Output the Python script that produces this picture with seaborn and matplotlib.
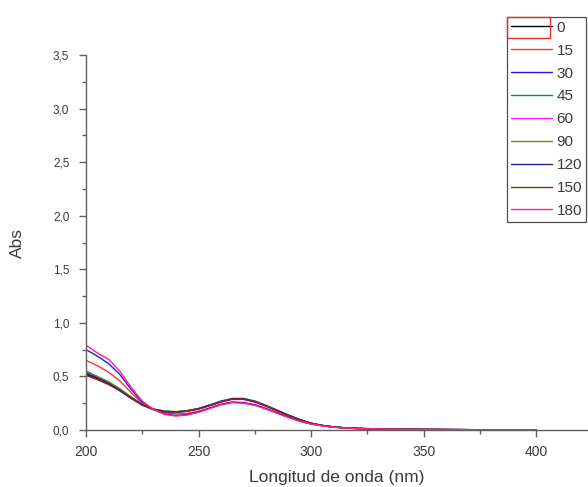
import matplotlib
matplotlib.use("Agg")
import matplotlib.pyplot as plt
from matplotlib.ticker import MultipleLocator, FuncFormatter
from matplotlib.patches import Rectangle
import numpy as np
import pandas as pd
import seaborn as sns

# Wavelength grid (nm)
wavelength = [200, 205, 210, 215, 220, 225, 230, 235, 240, 245, 250, 255, 260, 265,
              270, 275, 280, 285, 290, 295, 300, 305, 310, 315, 320, 330, 340, 360,
              380, 400]

# Absorbance spectra per time (min)
abs_0 = [0.52, 0.48, 0.43, 0.37, 0.30, 0.235, 0.195, 0.175, 0.17, 0.18, 0.20, 0.23, 0.265, 0.29,
         0.29, 0.265, 0.225, 0.18, 0.135, 0.095, 0.062, 0.042, 0.028, 0.02, 0.015, 0.01, 0.007,
         0.004, 0.002, 0.001]
abs_15 = [0.65, 0.60, 0.54, 0.46, 0.35, 0.25, 0.19, 0.16, 0.15, 0.155, 0.175, 0.205, 0.24, 0.26,
          0.255, 0.235, 0.20, 0.16, 0.12, 0.085, 0.057, 0.04, 0.027, 0.019, 0.014, 0.009, 0.006,
          0.004, 0.002, 0.001]
abs_30 = [0.75, 0.69, 0.62, 0.52, 0.38, 0.26, 0.19, 0.15, 0.135, 0.145, 0.17, 0.205, 0.24, 0.26,
          0.255, 0.235, 0.20, 0.16, 0.12, 0.085, 0.057, 0.04, 0.027, 0.019, 0.014, 0.009, 0.006,
          0.004, 0.002, 0.001]
abs_45 = [0.55, 0.50, 0.45, 0.385, 0.31, 0.24, 0.195, 0.175, 0.17, 0.18, 0.20, 0.235, 0.27, 0.295,
          0.295, 0.27, 0.23, 0.185, 0.14, 0.098, 0.064, 0.043, 0.029, 0.021, 0.015, 0.01, 0.007,
          0.004, 0.002, 0.001]
abs_60 = [0.53, 0.49, 0.44, 0.375, 0.30, 0.235, 0.19, 0.17, 0.165, 0.175, 0.195, 0.225, 0.26, 0.285,
          0.285, 0.26, 0.22, 0.178, 0.133, 0.094, 0.061, 0.042, 0.028, 0.02, 0.015, 0.01, 0.007,
          0.004, 0.002, 0.001]
abs_90 = [0.54, 0.495, 0.445, 0.38, 0.305, 0.24, 0.195, 0.175, 0.17, 0.18, 0.20, 0.232, 0.268, 0.292,
          0.292, 0.268, 0.228, 0.183, 0.138, 0.097, 0.063, 0.043, 0.029, 0.021, 0.015, 0.01, 0.007,
          0.004, 0.002, 0.001]
abs_120 = [0.53, 0.485, 0.435, 0.372, 0.30, 0.235, 0.192, 0.172, 0.167, 0.177, 0.198, 0.23, 0.266, 0.29,
           0.29, 0.266, 0.226, 0.181, 0.136, 0.096, 0.062, 0.042, 0.028, 0.02, 0.015, 0.01, 0.007,
           0.004, 0.002, 0.001]
abs_150 = [0.51, 0.47, 0.425, 0.365, 0.295, 0.232, 0.19, 0.17, 0.165, 0.175, 0.196, 0.228, 0.264, 0.288,
           0.288, 0.264, 0.224, 0.179, 0.134, 0.094, 0.061, 0.041, 0.028, 0.02, 0.015, 0.01, 0.007,
           0.004, 0.002, 0.001]
abs_180 = [0.79, 0.72, 0.66, 0.55, 0.40, 0.27, 0.19, 0.145, 0.13, 0.14, 0.165, 0.20, 0.235, 0.255,
           0.25, 0.23, 0.195, 0.155, 0.115, 0.08, 0.055, 0.038, 0.026, 0.018, 0.013, 0.009, 0.006,
           0.004, 0.002, 0.001]

times = ["0", "15", "30", "45", "60", "90", "120", "150", "180"]
series = [abs_0, abs_15, abs_30, abs_45, abs_60, abs_90, abs_120, abs_150, abs_180]
colors = ["#000000", "#ff3030", "#2020e0", "#008080", "#ff20ff", "#808000",
          "#202090", "#902020", "#ff2090"]

frames = [pd.DataFrame({"wl": wavelength, "abs": s, "t": t}) for t, s in zip(times, series)]
df = pd.concat(frames, ignore_index=True)

sns.set_style("ticks")
plt.rcParams["font.family"] = ["Liberation Sans", "DejaVu Sans"]

fig = plt.figure(figsize=(5.88, 4.87), dpi=100)
ax = fig.add_axes([86 / 588, 57 / 487, 502 / 588, 375 / 487])

sns.lineplot(data=df, x="wl", y="abs", hue="t", hue_order=times,
             palette=dict(zip(times, colors)), estimator=None, sort=False,
             linewidth=1.0, ax=ax, legend=False)

ax.set_xlim(200, 423)
ax.set_ylim(0, 3.5)
ax.xaxis.set_major_locator(MultipleLocator(50))
ax.xaxis.set_minor_locator(MultipleLocator(25))
ax.yaxis.set_major_locator(MultipleLocator(0.5))
ax.yaxis.set_minor_locator(MultipleLocator(0.25))
ax.yaxis.set_major_formatter(FuncFormatter(lambda v, p: f"{v:.1f}".replace(".", ",")))

axis_col = "#606060"
text_col = "#3a3a3a"
for side in ["top", "right"]:
    ax.spines[side].set_visible(False)
for side in ["left", "bottom"]:
    ax.spines[side].set_color(axis_col)
    ax.spines[side].set_linewidth(1.0)
ax.tick_params(which="major", direction="out", length=5, width=1, color=axis_col,
               labelcolor=text_col)
ax.tick_params(which="minor", direction="out", length=3, width=1, color=axis_col)
ax.tick_params(axis="x", which="major", labelsize=10, pad=6)
ax.tick_params(axis="y", which="major", labelsize=8.5, pad=7)

ax.set_xlabel("Longitud de onda (nm)", fontsize=12.5, color=text_col, labelpad=8)
ax.set_ylabel("Abs", fontsize=12.5, color=text_col, labelpad=20)

handles = [plt.Line2D([], [], color=c, linewidth=1.0) for c in colors]
leg = fig.legend(handles, times, loc="upper right",
                 bbox_to_anchor=(586 / 588, (487 - 17) / 487),
                 frameon=True, fancybox=False, fontsize=11, labelcolor=text_col,
                 handlelength=2.7, handletextpad=0.3, labelspacing=0.58,
                 borderpad=0.25, borderaxespad=0)
leg.get_frame().set_edgecolor("#202020")
leg.get_frame().set_linewidth(0.9)

# Selection outline around the first legend entry
fig.patches.append(Rectangle((507 / 588, (487 - 38) / 487), 43 / 588, 21 / 487,
                             transform=fig.transFigure, fill=False, zorder=10,
                             edgecolor="#e03030", linewidth=1.0))

fig.savefig("out.png", dpi=100)
